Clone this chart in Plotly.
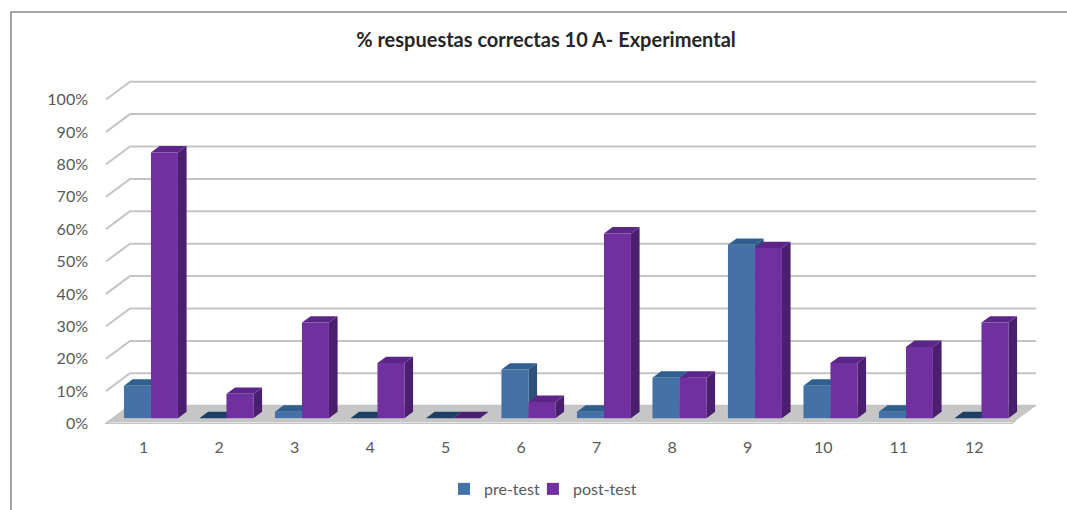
import plotly.graph_objects as go

# Chart content
categories = ["1", "2", "3", "4", "5", "6", "7", "8", "9", "10", "11", "12"]
pre_test = [10, 0, 2, 0, 0, 15, 2, 12.5, 53.5, 10, 2, 0]
post_test = [82, 7.5, 29.5, 17, 0, 5, 57, 12.5, 52.5, 17, 22, 29.5]
y_ticks = list(range(0, 101, 10))

# Canvas and plot-area geometry, in pixels
WIDTH, HEIGHT = 1067, 510
PLOT_L, PLOT_R, PLOT_T, PLOT_B = 103, 1040, 70, 428
ZERO_PX, PX_PER_PCT = 423.5, 3.24
LEFT_PX, PX_PER_CAT = 106, 75.5

# Oblique projection: a point at depth d (0 front, 1 back) shifts by d*DX, d*DY
DX = 24 / PX_PER_CAT
DY = 17.8 / PX_PER_PCT
BAR_D0, BAR_D1 = 0.30, 0.66
BAR_W = 27 / PX_PER_CAT

PRE_FRONT, PRE_TOP, PRE_SIDE, PRE_ZERO = "#4472a6", "#2f5f8e", "#2d527c", "#1d3f63"
POST_FRONT, POST_TOP, POST_SIDE, POST_ZERO = "#7030a0", "#5b2688", "#4a1f6e", "#4a1f6e"
GRID = "#c4c4c4"
TEXT = "#595959"

x_range = [(PLOT_L - LEFT_PX) / PX_PER_CAT, (PLOT_R - LEFT_PX) / PX_PER_CAT]
y_range = [(ZERO_PX - PLOT_B) / PX_PER_PCT, (ZERO_PX - PLOT_T) / PX_PER_PCT]
n = len(categories)


def to_paper(px, py):
    return (px - PLOT_L) / (PLOT_R - PLOT_L), (PLOT_B - py) / (PLOT_B - PLOT_T)


def project(x, v, d):
    return x + d * DX, v + d * DY


def polygon(points, color, line=None, width=0):
    path = "M " + " L ".join(f"{x:.4f},{y:.4f}" for x, y in points) + " Z"
    return dict(
        type="path", path=path, xref="x", yref="y", layer="below",
        fillcolor=color, line=dict(color=line or color, width=width),
    )


def polyline(points, color, width):
    path = "M " + " L ".join(f"{x:.4f},{y:.4f}" for x, y in points)
    return dict(
        type="path", path=path, xref="x", yref="y", layer="below",
        line=dict(color=color, width=width),
    )


def bar_faces(left, value, top_color, side_color):
    """Top and right faces of a box; `left` is its unprojected left edge."""
    right = left + BAR_W
    faces = []
    if value > 0:
        faces.append(polygon([
            project(right, 0, BAR_D0), project(right, value, BAR_D0),
            project(right, value, BAR_D1), project(right, 0, BAR_D1),
        ], side_color))
    faces.append(polygon([
        project(left, value, BAR_D0), project(right, value, BAR_D0),
        project(right, value, BAR_D1), project(left, value, BAR_D1),
    ], top_color))
    return faces


shapes = []

# Chart frame
fx0, fy0 = to_paper(11, 510)
fx1, fy1 = to_paper(WIDTH, 12)
shapes.append(dict(
    type="path", xref="paper", yref="paper", layer="below",
    path=f"M {fx0},{fy0} L {fx0},{fy1} L {fx1},{fy1}",
    line=dict(color="#868686", width=1.5),
))

# Floor of the box
shapes.append(polygon([
    project(0, 0, 0.1), project(0, 0, 1), project(n, 0, 1), project(n, 0, 0.1),
], "#c6c6c6"))
shapes.append(polygon([
    project(0, 0, 0), project(0, 0, 0.1), project(n, 0, 0.1), project(n, 0, 0),
], "#f2f2f2", line=GRID, width=1.2))

# Gridlines running along the side wall and the back wall
for tick in y_ticks:
    shapes.append(polyline(
        [project(0, tick, 0), project(0, tick, 1), project(n, tick, 1)],
        GRID, 2,
    ))

# Depth faces sit beneath the bar traces, so the front faces hide what they should
pre_left = [i + 0.5 - BAR_W for i in range(n)]
post_left = [i + 0.5 for i in range(n)]
for i in range(n):
    top = PRE_TOP if pre_test[i] > 0 else PRE_ZERO
    shapes += bar_faces(pre_left[i], pre_test[i], top, PRE_SIDE)
for i in range(n):
    top = POST_TOP if post_test[i] > 0 else POST_ZERO
    shapes += bar_faces(post_left[i], post_test[i], top, POST_SIDE)

fig = go.Figure()
bar_base = BAR_D0 * DY
bar_shift = BAR_D0 * DX + BAR_W / 2
fig.add_bar(
    name="pre-test", x=[v + bar_shift for v in pre_left], y=pre_test,
    base=bar_base, width=BAR_W, marker=dict(color=PRE_FRONT, line_width=0),
)
fig.add_bar(
    name="post-test", x=[v + bar_shift for v in post_left], y=post_test,
    base=bar_base, width=BAR_W, marker=dict(color=POST_FRONT, line_width=0),
)

fig.update_layout(
    width=WIDTH, height=HEIGHT,
    margin=dict(l=PLOT_L, r=WIDTH - PLOT_R, t=PLOT_T, b=HEIGHT - PLOT_B, autoexpand=False),
    paper_bgcolor="white", plot_bgcolor="rgba(0,0,0,0)",
    barmode="overlay", shapes=shapes,
    font=dict(family="Lato, sans-serif", size=16, color=TEXT),
    title=dict(
        text="<b>% respuestas correctas 10 A- Experimental</b>",
        x=546 / WIDTH, xanchor="center", y=1 - 40 / HEIGHT, yanchor="middle",
        font=dict(family="Lato, sans-serif", size=20, color="#262626"),
    ),
    xaxis=dict(
        range=x_range, showgrid=False, zeroline=False, showline=False,
        tickmode="array", tickvals=[i + 0.5 for i in range(n)], ticktext=categories,
        ticks="", ticklabelstandoff=8,
    ),
    yaxis=dict(
        range=y_range, showgrid=False, zeroline=False, showline=False,
        tickmode="array", tickvals=y_ticks, ticktext=[f"{t}%" for t in y_ticks],
        ticks="", ticklabelstandoff=14,
    ),
    legend=dict(
        orientation="h", x=to_paper(549, 0)[0], xanchor="center",
        y=to_paper(0, 489)[1], yanchor="middle", bgcolor="rgba(0,0,0,0)",
        itemwidth=30, indentation=-12, font=dict(size=16),
    ),
)

fig.write_html("out.html")
